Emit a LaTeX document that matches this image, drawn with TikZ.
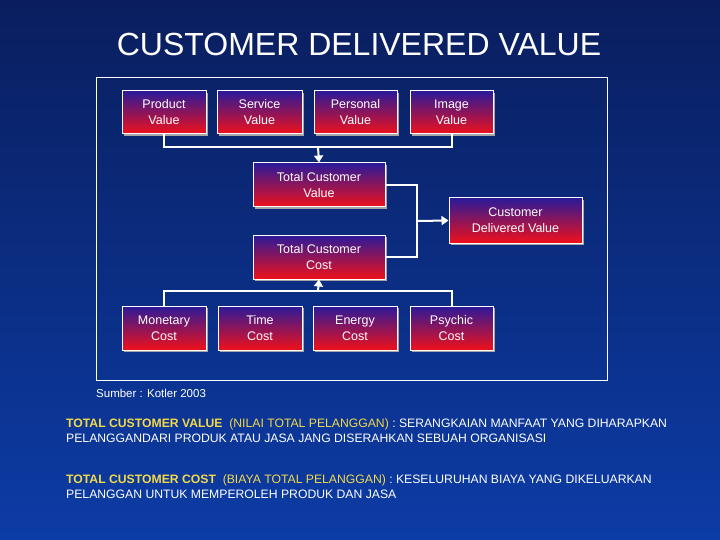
\documentclass[tikz,border=0pt]{standalone}
\usepackage{fontspec}
\setmainfont{Liberation Sans}
\usetikzlibrary{arrows.meta,shadows}
\definecolor{navy}{HTML}{0A1E5E}
\definecolor{bgblue}{HTML}{0C3CA6}
\definecolor{boxtop}{HTML}{2A1A9A}
\definecolor{boxbot}{HTML}{F0101A}
\definecolor{ylw}{HTML}{F2D94A}
\begin{document}
\begin{tikzpicture}[x=1pt,y=-1pt,
  bx/.style={draw=white,line width=1pt,top color=boxtop,bottom color=boxbot,
    drop shadow={shadow xshift=2pt,shadow yshift=-2pt,fill=gray!70,opacity=1},
    text=white,align=center,font=\fontsize{12.5}{16}\selectfont,inner sep=0pt},
  ln/.style={draw=white,line width=2pt},
  ar/.style={ln,-{Triangle[length=7pt,width=9pt]}}]
\useasboundingbox (0,0) rectangle (720,540);
\shade[top color=navy,bottom color=bgblue] (0,0) rectangle (720,540);
\node[text=white,font=\fontsize{32}{36}\selectfont] (title) at (359,44) {CUSTOMER DELIVERED VALUE};
\draw[white,line width=1pt] (96,78) rectangle (607,380);
\newcommand{\bxn}[6]{\node[bx,minimum width=#4-#3,minimum height=#6-#5] (#1) at ({(#3+#4)/2},{(#5+#6)/2}) {#2};}
\bxn{pv}{Product\\Value}{122}{206}{91}{134}
\bxn{sv}{Service\\Value}{217}{302}{91}{134}
\bxn{ppv}{Personal\\Value}{314}{397}{91}{134}
\bxn{iv}{Image\\Value}{410}{493}{91}{134}
\bxn{tcv}{Total Customer\\Value}{253}{385}{163}{207}
\bxn{cdv}{Customer\\Delivered Value}{449}{582}{198}{243}
\bxn{tcc}{Total Customer\\Cost}{253}{385}{235}{279}
\bxn{mc}{Monetary\\Cost}{122}{206}{306}{350}
\bxn{tc}{Time\\Cost}{218}{302}{306}{350}
\bxn{ec}{Energy\\Cost}{313}{397}{306}{350}
\bxn{pc}{Psychic\\Cost}{410}{493}{306}{350}
\coordinate (tb) at (318,147);
\coordinate (bb) at (318,291);
\coordinate (mj) at (417,221);
\draw[ln] (pv.south) |- (tb) -| (iv.south);
\draw[ar] (tb) -- (tcv.north);
\draw[ln] (mc.north) |- (bb) -| (pc.north);
\draw[ar] (bb) -- (tcc.south);
\draw[ln] (tcv.east) -| (mj) |- (tcc.east);
\draw[ar] (mj) -- (cdv.west);
\node[anchor=west,text=white,font=\fontsize{11.5}{13}\selectfont,inner sep=0pt] (src) at (96,393) {Sumber : Kotler 2003};
\node[anchor=north west,align=left,text=white,font=\fontsize{12.2}{15}\selectfont,inner sep=0pt] (d1) at (66,418)
 {\textcolor{ylw}{\textbf{TOTAL CUSTOMER VALUE}\ \ (NILAI TOTAL PELANGGAN)} : SERANGKAIAN MANFAAT YANG DIHARAPKAN\\PELANGGANDARI PRODUK ATAU JASA JANG DISERAHKAN SEBUAH ORGANISASI};
\node[anchor=north west,align=left,text=white,font=\fontsize{12.2}{15}\selectfont,inner sep=0pt] (d2) at (66,474)
 {\textcolor{ylw}{\textbf{TOTAL CUSTOMER COST}\ \ (BIAYA TOTAL PELANGGAN)} : KESELURUHAN BIAYA YANG DIKELUARKAN\\PELANGGAN UNTUK MEMPEROLEH PRODUK DAN JASA};
\end{tikzpicture}
\end{document}
